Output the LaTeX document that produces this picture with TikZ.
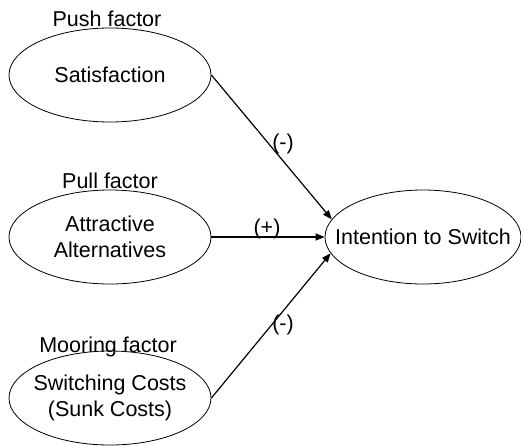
\documentclass[tikz,border=0pt]{standalone}
\usepackage{fontspec}
\setmainfont{Liberation Sans}
\usetikzlibrary{shapes.geometric,arrows.meta}
\begin{document}
\begin{tikzpicture}[x=1pt,y=-1pt,
  oval/.style={ellipse, draw, line width=0.8pt, minimum width=202pt, minimum height=94pt, inner sep=0pt},
  txt/.style={inner sep=0pt, align=center, font=\fontsize{21.5}{25.5}\selectfont},
  ttl/.style={anchor=base, inner sep=0pt, font=\fontsize{21.5}{25.5}\selectfont},
  lbl/.style={inner sep=0pt, font=\fontsize{21.5}{25.5}\selectfont},
  conn/.style={line width=1.2pt, -{Triangle[length=9pt,width=7pt]}}]
\useasboundingbox (0,0) rectangle (521,445);
\node[oval] (sat) at (110,75) {};
\node[oval] (alt) at (110,237) {};
\node[oval] (sw) at (110,398) {};
\node[oval, minimum width=196pt] (int) at (423,237) {};
\node[txt] (satT) at (sat) {Satisfaction};
\node[txt] (altT) at (alt) {Attractive\\Alternatives};
\node[txt] (swT) at (sw) {Switching Costs\\(Sunk Costs)};
\node[txt] (intT) at (int) {Intention to Switch};
\node[ttl] (t1) at (107,26) {Push factor};
\node[ttl] (t2) at (110,188) {Pull factor};
\node[ttl] (t3) at (108,352) {Mooring factor};
\draw[conn] (sat.east) -- (int.169);
\draw[conn] (alt.east) -- (int.west);
\draw[conn] (sw.east) -- (int.190);
\node[lbl] (l1) at (283,144) {(-)};
\node[lbl] (l2) at (267,229) {(+)};
\node[lbl] (l3) at (283,325) {(-)};
\end{tikzpicture}
\end{document}
